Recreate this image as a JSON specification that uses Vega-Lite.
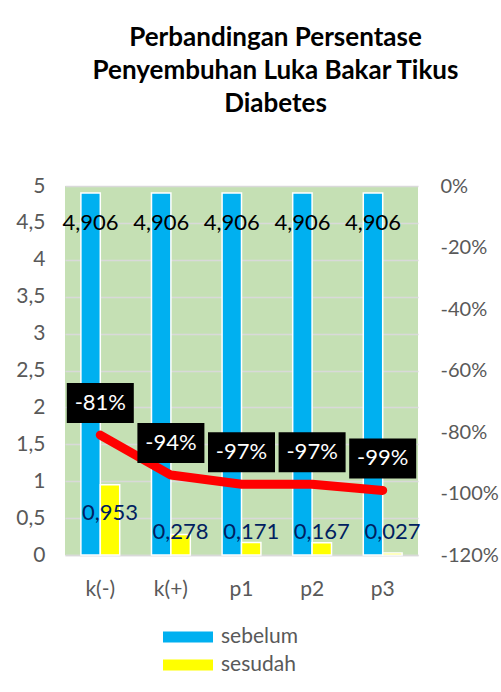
{
  "$schema": "https://vega.github.io/schema/vega-lite/v6.json",
  "width": 353,
  "height": 369,
  "autosize": "none",
  "padding": {"left": 65, "top": 186, "right": 83, "bottom": 137},
  "background": "white",
  "config": {
    "locale": {"number": {"decimal": ",", "thousands": ".", "grouping": [3], "currency": ["", ""], "minus": "-"}},
    "view": {"fill": "#c5e0b4", "stroke": null},
    "font": "Lato",
    "axis": {"labelFont": "Lato", "labelFontSize": 21, "labelColor": "#595959", "ticks": false, "title": null},
    "legend": {"labelFont": "Lato"}
  },
  "title": {
    "text": ["Perbandingan Persentase", "Penyembuhan Luka Bakar Tikus", "Diabetes"],
    "font": "Lato",
    "fontSize": 26,
    "fontWeight": "bold",
    "color": "#000000",
    "lineHeight": 33,
    "anchor": "middle",
    "frame": "group",
    "dx": 34,
    "offset": 58
  },
  "datasets": {
    "bars": [
      {"kategori": "k(-)", "seri": "sebelum", "nilai": 4.906},
      {"kategori": "k(-)", "seri": "sesudah", "nilai": 0.953},
      {"kategori": "k(+)", "seri": "sebelum", "nilai": 4.906},
      {"kategori": "k(+)", "seri": "sesudah", "nilai": 0.278},
      {"kategori": "p1", "seri": "sebelum", "nilai": 4.906},
      {"kategori": "p1", "seri": "sesudah", "nilai": 0.171},
      {"kategori": "p2", "seri": "sebelum", "nilai": 4.906},
      {"kategori": "p2", "seri": "sesudah", "nilai": 0.167},
      {"kategori": "p3", "seri": "sebelum", "nilai": 4.906},
      {"kategori": "p3", "seri": "sesudah", "nilai": 0.027}
    ],
    "persen": [
      {"kategori": "k(-)", "persen": -0.81},
      {"kategori": "k(+)", "persen": -0.94},
      {"kategori": "p1", "persen": -0.97},
      {"kategori": "p2", "persen": -0.97},
      {"kategori": "p3", "persen": -0.99}
    ]
  },
  "encoding": {
    "x": {
      "field": "kategori",
      "type": "nominal",
      "sort": ["k(-)", "k(+)", "p1", "p2", "p3"],
      "scale": {"type": "band", "paddingInner": 0.45, "paddingOuter": 0.225},
      "axis": {"labelAngle": 0, "domain": true, "domainColor": "#d9d9d9", "domainWidth": 1.5, "labelPadding": 23, "grid": false}
    }
  },
  "layer": [
    {
      "data": {"name": "bars"},
      "encoding": {
        "y": {
          "field": "nilai",
          "type": "quantitative",
          "scale": {"domain": [0, 5], "nice": false},
          "axis": {"values": [0, 0.5, 1, 1.5, 2, 2.5, 3, 3.5, 4, 4.5, 5], "format": "~g", "domain": false, "grid": true, "gridColor": "#d9d9d9", "gridWidth": 1.5, "labelPadding": 20}
        },
        "xOffset": {"field": "seri", "type": "nominal", "scale": {"domain": ["sebelum", "sesudah"]}}
      },
      "layer": [
        {
          "mark": {"type": "bar", "stroke": "white", "strokeWidth": 1.5},
          "encoding": {
            "color": {
              "field": "seri",
              "type": "nominal",
              "scale": {"domain": ["sebelum", "sesudah"], "range": ["#00b0f0", "#ffff00"]},
              "legend": {
                "title": null,
                "orient": "none",
                "legendX": 98,
                "legendY": 440,
                "direction": "vertical",
                "padding": 0,
                "symbolType": "M-1,-0.22H1V0.22H-1Z",
                "symbolSize": 2500,
                "symbolStrokeWidth": 0,
                "symbolOpacity": 1,
                "labelFontSize": 21,
                "labelColor": "#595959",
                "labelOffset": 8,
                "clipHeight": 22,
                "rowPadding": 6
              }
            }
          }
        },
        {
          "transform": [{"filter": "datum.seri === 'sebelum'"}],
          "mark": {"type": "text", "fontSize": 22, "color": "#000000", "baseline": "middle", "dy": 30},
          "encoding": {"text": {"field": "nilai", "type": "quantitative", "format": ".3f"}}
        },
        {
          "transform": [{"filter": "datum.seri === 'sesudah' && datum.nilai > 0.5"}],
          "mark": {"type": "text", "fontSize": 22, "color": "#002060", "baseline": "middle", "dy": 28},
          "encoding": {"text": {"field": "nilai", "type": "quantitative", "format": ".3f"}}
        },
        {
          "transform": [{"filter": "datum.seri === 'sesudah' && datum.nilai <= 0.5"}],
          "mark": {"type": "text", "fontSize": 22, "color": "#002060", "baseline": "middle"},
          "encoding": {
            "y": {"datum": 0.31, "type": "quantitative"},
            "text": {"field": "nilai", "type": "quantitative", "format": ".3f"}
          }
        }
      ]
    },
    {
      "data": {"name": "persen"},
      "encoding": {
        "y": {
          "field": "persen",
          "type": "quantitative",
          "scale": {"domain": [-1.2, 0], "nice": false},
          "axis": {"orient": "right", "values": [0, -0.2, -0.4, -0.6, -0.8, -1, -1.2], "format": ".0%", "domain": false, "grid": false, "labelPadding": 22, "labelFontSize": 20}
        }
      },
      "layer": [
        {
          "mark": {"type": "line", "color": "#ff0000", "strokeWidth": 9, "strokeCap": "round", "strokeJoin": "round"}
        },
        {
          "mark": {"type": "point", "shape": "M-1,-1.552H1V-0.358H-1Z", "size": 4489, "filled": true, "color": "#000000", "opacity": 1}
        },
        {
          "mark": {"type": "text", "fontSize": 22, "color": "#ffffff", "baseline": "middle", "dy": -32},
          "encoding": {"text": {"field": "persen", "type": "quantitative", "format": ".0%"}}
        }
      ]
    }
  ],
  "resolve": {"scale": {"y": "independent"}}
}
